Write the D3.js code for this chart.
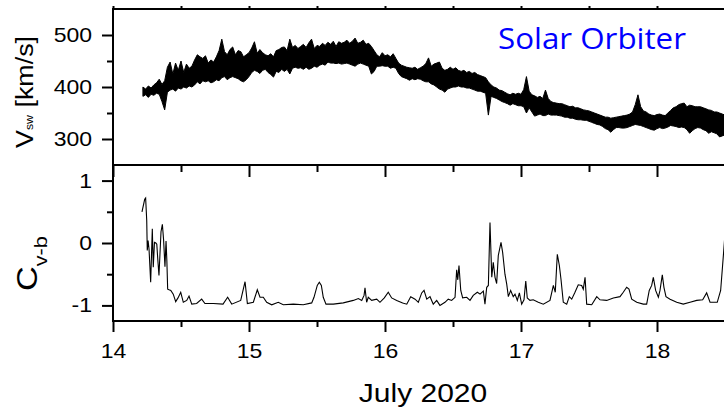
<!DOCTYPE html>
<html>
<head>
<meta charset="utf-8">
<script src="https://cdn.jsdelivr.net/npm/d3@7"></script>
<style>
body { margin: 0; background: #fff; }
text { font-family: "Liberation Sans", Arial, sans-serif; fill: #000; }
</style>
</head>
<body>
<div id="chart"></div>
<script>
// solar wind speed, read as upper / lower edge of the noisy band (one row = 10 samples)
var vswDay = [
  14.22,14.24,14.26,14.28,14.30,14.32,14.34,14.36,14.38,14.40,
  14.42,14.44,14.46,14.48,14.50,14.52,14.54,14.56,14.58,14.60,
  14.62,14.64,14.66,14.68,14.70,14.72,14.74,14.76,14.78,14.80,
  14.82,14.84,14.86,14.88,14.90,14.92,14.94,14.96,14.98,15.00,
  15.02,15.04,15.06,15.08,15.10,15.12,15.14,15.16,15.18,15.20,
  15.22,15.24,15.26,15.28,15.30,15.32,15.34,15.36,15.38,15.40,
  15.42,15.44,15.46,15.48,15.50,15.52,15.54,15.56,15.58,15.60,
  15.62,15.64,15.66,15.68,15.70,15.72,15.74,15.76,15.78,15.80,
  15.82,15.84,15.86,15.88,15.90,15.92,15.94,15.96,15.98,16.00,
  16.02,16.04,16.06,16.08,16.10,16.12,16.14,16.16,16.18,16.20,
  16.22,16.24,16.26,16.28,16.30,16.32,16.34,16.36,16.38,16.40,
  16.42,16.44,16.46,16.48,16.50,16.52,16.54,16.56,16.58,16.60,
  16.62,16.64,16.66,16.68,16.70,16.72,16.74,16.76,16.78,16.80,
  16.82,16.84,16.86,16.88,16.90,16.92,16.94,16.96,16.98,17.00,
  17.02,17.04,17.06,17.08,17.10,17.12,17.14,17.16,17.18,17.20,
  17.22,17.24,17.26,17.28,17.30,17.32,17.34,17.36,17.38,17.40,
  17.42,17.44,17.46,17.48,17.50,17.52,17.54,17.56,17.58,17.60,
  17.62,17.64,17.66,17.68,17.70,17.72,17.74,17.76,17.78,17.80,
  17.82,17.84,17.86,17.88,17.90,17.92,17.94,17.96,17.98,18.00,
  18.02,18.04,18.06,18.08,18.10,18.12,18.14,18.16,18.18,18.20,
  18.22,18.24,18.26,18.28,18.30,18.32,18.34,18.36,18.38,18.40,
  18.42,18.44,18.46,18.48,18.50];
var vswHi = [
  400,396,402,398,404,408,415,405,412,438,
  448,425,446,432,450,428,444,436,440,452,
  462,458,455,460,446,452,448,458,470,492,
  468,462,472,477,462,470,468,458,462,466,
  475,487,465,472,466,462,460,464,458,470,
  472,476,477,470,492,476,480,474,478,482,
  476,485,492,474,480,478,484,480,486,482,
  488,478,487,484,486,490,484,488,494,484,
  486,490,482,484,478,470,462,458,466,460,
  462,458,464,455,446,442,440,438,437,436,
  438,434,437,440,445,456,440,444,446,448,
  436,432,434,438,434,437,432,430,432,428,
  430,426,428,424,422,420,418,410,404,400,
  398,394,393,390,387,385,388,386,388,386,
  395,420,392,385,383,380,382,378,394,378,
  372,370,369,368,368,366,364,362,363,360,
  360,358,356,355,354,352,350,348,346,344,
  342,342,340,341,342,343,344,345,346,348,
  352,366,385,362,354,352,348,346,345,347,
  348,346,345,350,355,360,362,366,368,369,
  362,365,364,362,362,362,360,358,356,355,
  352,352,350,348,346];
var vswLo = [
  382,385,380,386,384,388,386,372,356,390,
  394,396,392,398,396,400,398,402,400,404,
  410,406,412,410,412,408,410,414,412,418,
  420,414,418,420,418,416,412,410,414,420,
  428,432,430,426,432,434,428,424,419,430,
  428,434,430,434,425,436,438,436,437,434,
  438,434,436,440,438,442,444,442,448,446,
  446,445,446,444,445,446,444,442,440,444,
  446,444,442,440,425,430,440,440,441,440,
  440,436,438,436,426,420,418,416,413,416,
  414,416,415,412,410,410,406,404,400,396,
  394,390,396,398,400,400,402,400,400,398,
  398,396,394,392,392,390,388,346,382,380,
  378,375,372,370,368,365,368,366,364,364,
  362,350,360,352,344,346,348,345,345,348,
  346,346,346,345,344,342,342,340,340,338,
  337,337,336,336,334,332,330,328,327,324,
  320,318,313,318,322,322,321,321,322,324,
  326,328,327,326,324,322,320,318,317,320,
  322,320,321,323,326,325,324,322,323,322,
  318,311,316,320,322,321,318,316,311,314,
  312,310,304,306,308];

// cross helicity C_v-b
var cvbDay = [14.213,14.233,14.240,14.248,14.252,14.258,14.265,14.277,14.289,14.296,14.305,14.315,14.322,14.329,14.338,14.353,14.363,14.372,14.382,14.390,
  14.396,14.402,14.412,14.425,14.443,14.461,14.478,14.498,14.517,14.542,14.559,14.579,14.615,14.652,14.676,14.738,14.809,14.843,14.873,14.939,
  14.971,14.988,15.032,15.061,15.081,15.105,15.130,15.167,15.215,15.252,15.326,15.399,15.461,15.478,15.502,15.517,15.532,15.546,15.566,15.620,
  15.693,15.767,15.804,15.829,15.846,15.853,15.865,15.877,15.902,15.939,15.963,15.995,16.024,16.049,16.086,16.130,16.160,16.189,16.221,16.245,
  16.270,16.287,16.307,16.331,16.355,16.380,16.404,16.441,16.465,16.490,16.515,16.527,16.535,16.544,16.557,16.571,16.601,16.625,16.649,16.679,
  16.699,16.723,16.735,16.748,16.760,16.772,16.785,16.796,16.809,16.821,16.833,16.853,16.865,16.882,16.895,16.907,16.924,16.943,16.956,16.973,
  16.988,17.005,17.022,17.035,17.046,17.066,17.090,17.127,17.164,17.213,17.238,17.252,17.267,17.282,17.294,17.311,17.336,17.355,17.373,17.397,
  17.421,17.446,17.458,17.471,17.483,17.520,17.557,17.581,17.630,17.679,17.728,17.752,17.777,17.794,17.814,17.851,17.899,17.924,17.943,17.961,
  17.973,17.990,18.010,18.022,18.039,18.051,18.066,18.096,18.145,18.193,18.243,18.292,18.336,18.365,18.390,18.443,18.468,18.488,18.500];
var cvbVal = [0.50,0.70,0.72,0.36,-0.12,0.04,-0.10,-0.63,0.23,-0.39,0.01,0.00,-0.02,-0.25,-0.52,0.18,0.30,0.05,-0.38,0.03,
  -0.28,-0.74,-0.75,-0.76,-0.82,-0.94,-0.88,-0.79,-0.95,-0.92,-0.85,-0.98,-0.97,-0.90,-0.97,-0.97,-0.98,-0.87,-0.98,-0.92,
  -0.62,-0.97,-0.95,-0.75,-0.87,-0.87,-0.95,-0.99,-0.95,-0.99,-0.98,-0.99,-0.96,-0.87,-0.68,-0.63,-0.68,-0.87,-0.98,-0.98,
  -0.96,-0.92,-0.89,-0.92,-0.84,-0.72,-0.95,-0.87,-0.92,-0.90,-0.95,-0.88,-0.79,-0.88,-0.92,-0.96,-0.98,-0.86,-0.90,-0.95,
  -0.80,-0.76,-0.90,-0.86,-0.98,-0.92,-1.00,-0.95,-0.90,-0.92,-0.87,-0.43,-0.59,-0.36,-0.76,-0.88,-0.87,-0.92,-0.84,-0.79,
  -0.82,-0.77,-0.98,-0.71,-0.68,0.33,-0.55,-0.31,-0.55,-0.65,-0.20,0.01,-0.15,-0.50,-0.66,-0.86,-0.76,-0.86,-0.82,-0.92,
  -0.80,-0.98,-0.91,-0.61,-0.88,-0.92,-0.91,-0.95,-0.98,-0.92,-0.68,-0.79,-0.18,-0.36,-0.58,-0.95,-0.98,-0.86,-0.90,-0.79,
  -0.67,-0.68,-0.74,-0.55,-0.98,-0.99,-0.86,-0.91,-0.92,-0.88,-0.86,-0.79,-0.71,-0.74,-0.90,-0.95,-0.98,-0.98,-0.76,-0.68,
  -0.55,-0.76,-0.87,-0.76,-0.51,-0.71,-0.86,-0.90,-0.95,-0.98,-0.95,-0.92,-0.91,-0.80,-0.95,-0.95,-0.76,-0.20,0.15];

var dayTicks = [14, 15, 16, 17, 18];
var dayMinor = [14.5, 15.5, 16.5, 17.5, 18.5];
var vswTicks = [300, 400, 500];
var vswMinor = [350, 450];
var cvbTicks = [-1, 0, 1];
var cvbMinor = [-0.5, 0.5];

var width = 724, height = 414;
var left = 113, right = 725;
var topV = 9, mid = 165, bottom = 321;
var stretch = 1.15;

var svg = d3.select('#chart').append('svg')
    .attr('width', width)
    .attr('height', height);

var x = d3.scaleLinear().domain([14, 18.5]).range([left, right]);
var yV = d3.scaleLinear().domain([250, 550]).range([mid, topV]);
var yC = d3.scaleLinear().domain([-1.25, 1.25]).range([bottom, mid]);

// top panel: band
var vswRows = vswDay.map(function(d, i) { return {d: d, hi: vswHi[i], lo: vswLo[i]}; });
var band = d3.area()
    .x(function(d) { return x(d.d); })
    .y0(function(d) { return yV(d.lo); })
    .y1(function(d) { return yV(d.hi); });

svg.append('path')
    .datum(vswRows)
    .attr('d', band)
    .attr('fill', '#000')
    .attr('stroke', '#000')
    .attr('stroke-width', 1)
    .attr('stroke-linejoin', 'miter');

// bottom panel: line
var cvbRows = cvbDay.map(function(d, i) { return {d: d, v: cvbVal[i]}; });
var line = d3.line()
    .x(function(d) { return x(d.d); })
    .y(function(d) { return yC(d.v); });

svg.append('path')
    .datum(cvbRows)
    .attr('d', line)
    .attr('fill', 'none')
    .attr('stroke', '#000')
    .attr('stroke-width', 1.1);

// axes
function styleAxis(g) {
    g.select('.domain').remove();
    g.selectAll('line').attr('stroke', '#000').attr('stroke-width', 2);
    g.selectAll('text').style('font-size', '20px').attr('fill', '#000');
}

function leftAxis(scale, major, minor) {
    svg.append('g')
        .attr('transform', 'translate(' + left + ',0)')
        .call(d3.axisLeft(scale).tickValues(minor).tickSize(6).tickFormat(''))
        .call(styleAxis);
    svg.append('g')
        .attr('transform', 'translate(' + left + ',0)')
        .call(d3.axisLeft(scale).tickValues(major).tickSize(11).tickFormat(function(d) { return String(d); }))
        .call(styleAxis)
        .selectAll('text')
        .attr('x', 0)
        .attr('transform', 'translate(-21,0) scale(' + stretch + ',1)');
}
leftAxis(yV, vswTicks, vswMinor);
leftAxis(yC, cvbTicks, cvbMinor);

// ticks under the middle border and at the top
svg.append('g')
    .attr('transform', 'translate(0,' + mid + ')')
    .call(d3.axisBottom(x).tickValues(dayMinor).tickSize(7).tickFormat(''))
    .call(styleAxis);
svg.append('g')
    .attr('transform', 'translate(0,' + mid + ')')
    .call(d3.axisBottom(x).tickValues(dayTicks).tickSize(12).tickFormat(''))
    .call(styleAxis);
svg.append('g')
    .attr('transform', 'translate(0,' + topV + ')')
    .call(d3.axisTop(x).tickValues(dayTicks.concat(dayMinor)).tickSize(3).tickFormat(''))
    .call(styleAxis);

// bottom axis
svg.append('g')
    .attr('transform', 'translate(0,' + bottom + ')')
    .call(d3.axisBottom(x).tickValues(dayMinor).tickSize(6).tickFormat(''))
    .call(styleAxis);
svg.append('g')
    .attr('transform', 'translate(0,' + bottom + ')')
    .call(d3.axisBottom(x).tickValues(dayTicks).tickSize(11).tickFormat(function(d) { return String(d); }))
    .call(styleAxis)
    .selectAll('text')
    .attr('y', 0)
    .attr('dy', null)
    .attr('transform', 'translate(0,37) scale(' + stretch + ',1)');

// frame
var frame = svg.append('g').attr('stroke', '#000').attr('stroke-width', 2).attr('fill', 'none');
frame.append('line').attr('x1', left).attr('x2', width + 2).attr('y1', topV).attr('y2', topV);
frame.append('line').attr('x1', left).attr('x2', width + 2).attr('y1', mid).attr('y2', mid);
frame.append('line').attr('x1', left).attr('x2', width + 2).attr('y1', bottom).attr('y2', bottom);
frame.append('line').attr('x1', left).attr('x2', left).attr('y1', topV - 1).attr('y2', bottom + 1);

// axis titles
var t1 = svg.append('text')
    .attr('transform', 'translate(33,148) rotate(-90) scale(1.12,1)')
    .style('font-size', '24px');
t1.append('tspan').text('V');
t1.append('tspan').style('font-size', '11px').text('sw');
t1.append('tspan').text(' [km/s]');

var t2 = svg.append('text')
    .attr('transform', 'translate(37,291) rotate(-90) scale(1.14,1)')
    .style('font-size', '30px');
t2.append('tspan').text('C');
t2.append('tspan').attr('dy', 10).style('font-size', '19px').text('v-b');

svg.append('text')
    .attr('transform', 'translate(423,402) scale(1.2,1)')
    .attr('text-anchor', 'middle')
    .style('font-size', '25px')
    .text('July 2020');

svg.append('text')
    .attr('transform', 'translate(498,49) scale(1.08,1)')
    .style('font-family', '"Open Sans", sans-serif')
    .style('font-size', '29px')
    .style('fill', '#0000ff')
    .text('Solar Orbiter');
</script>
</body>
</html>
